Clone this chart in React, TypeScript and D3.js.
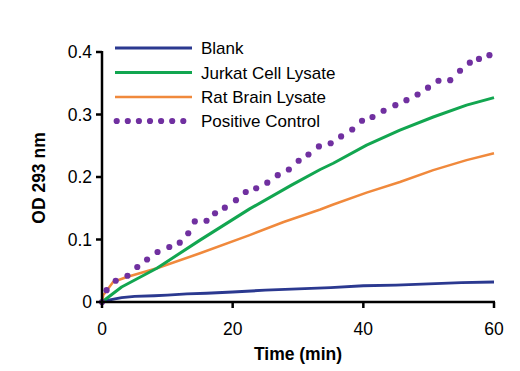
import React from "react";
import { scaleLinear, line, curveLinear } from "d3";

const xTicks = [0, 20, 40, 60];
const yTicks = [0, 0.1, 0.2, 0.3, 0.4];

const blankT = [0, 1, 3, 5, 8, 10, 13, 16, 20, 25, 30, 35, 40, 45, 50, 55, 60];
const blankV = [0, 0.003, 0.007, 0.009, 0.01, 0.011, 0.013, 0.014, 0.016, 0.019, 0.021, 0.023, 0.026, 0.027, 0.029, 0.031, 0.032];

const jurkatT = [0, 3, 8.4, 15, 22.6, 29, 33.4, 35.4, 40.5, 45.6, 50.7, 55.8, 60];
const jurkatV = [0, 0.024, 0.054, 0.099, 0.149, 0.187, 0.212, 0.222, 0.251, 0.275, 0.296, 0.315, 0.327];

const ratT = [0, 0.2, 1.7, 3.8, 8.4, 15, 22.6, 27.8, 33.4, 35.4, 40.5, 45.6, 50.7, 55.8, 60];
const ratV = [0, 0.011, 0.032, 0.04, 0.054, 0.078, 0.107, 0.128, 0.148, 0.156, 0.175, 0.192, 0.211, 0.227, 0.238];

const posT = [0, 0.7, 2.1, 3.9, 5.4, 6.9, 8.5, 10.3, 11.9, 13.2, 14.2, 16, 17.3, 18.8, 20.5, 22, 23.6, 25.3, 26.9, 28.6, 30.1, 31.6, 33.2, 35, 36.6, 38.3, 39.8, 41.4, 43.1, 44.9, 46.6, 48.3, 49.9, 51.5, 53.3, 54.8, 56.3, 57.7, 59.3];
const posV = [0, 0.019, 0.034, 0.042, 0.056, 0.068, 0.08, 0.088, 0.095, 0.11, 0.129, 0.13, 0.142, 0.151, 0.163, 0.176, 0.182, 0.191, 0.203, 0.212, 0.226, 0.236, 0.249, 0.254, 0.265, 0.276, 0.29, 0.296, 0.306, 0.315, 0.323, 0.332, 0.343, 0.354, 0.355, 0.37, 0.383, 0.389, 0.395];

const seriesNames = ["Blank", "Jurkat Cell Lysate", "Rat Brain Lysate", "Positive Control"];
const colors = ["#2b3990", "#12a650", "#f0893c", "#7030a0"];

const W = 520;
const H = 371;
const m = { left: 102, right: 494, top: 52, bottom: 302 };
const font = "Liberation Sans, Arial, sans-serif";

export default function App() {
  const x = scaleLinear().domain([0, 60]).range([m.left, m.right]);
  const y = scaleLinear().domain([0, 0.4]).range([m.bottom, m.top]);

  const mk = line<number>().curve(curveLinear);

  const path = (ts: number[], vs: number[]) =>
    mk.x((_, i) => x(ts[i])).y((v) => y(v))(vs) || "";

  const lines = [
    { d: path(blankT, blankV), c: colors[0], w: 3 },
    { d: path(ratT, ratV), c: colors[2], w: 2.5 },
    { d: path(jurkatT, jurkatV), c: colors[1], w: 3 },
  ];

  const legendY = [48, 72.5, 97, 121];

  return (
    <svg
      width={W}
      height={H}
      style={{ position: "absolute", left: 0, top: 0, background: "#fff" }}
      fontFamily={font}
    >
      {/* series */}
      {lines.map((l, i) => (
        <path key={i} d={l.d} fill="none" stroke={l.c} strokeWidth={l.w} strokeLinejoin="round" />
      ))}
      {posT.map((t, i) => (
        <circle key={i} cx={x(t)} cy={y(posV[i])} r={3.1} fill={colors[3]} />
      ))}

      {/* axes */}
      <line x1={m.left} x2={m.left} y1={m.top - 1} y2={m.bottom + 1} stroke="#000" strokeWidth={2.5} />
      <line x1={m.left - 1} x2={m.right + 1} y1={m.bottom} y2={m.bottom} stroke="#000" strokeWidth={2.5} />
      {yTicks.map((t) => (
        <g key={t}>
          <line x1={m.left - 6} x2={m.left} y1={y(t)} y2={y(t)} stroke="#000" strokeWidth={2.5} />
          <text x={92} y={y(t)} dy="0.36em" textAnchor="end" fontSize={17.5} fill="#000">
            {t === 0 ? "0" : t.toFixed(1)}
          </text>
        </g>
      ))}
      {xTicks.map((t) => (
        <g key={t}>
          <line x1={x(t)} x2={x(t)} y1={m.bottom} y2={m.bottom + 6} stroke="#000" strokeWidth={2.5} />
          <text x={x(t)} y={335} textAnchor="middle" fontSize={17.5} fill="#000">
            {t}
          </text>
        </g>
      ))}
      <text x={(m.left + m.right) / 2} y={360} textAnchor="middle" fontSize={17.5} fontWeight="bold">
        Time (min)
      </text>
      <text
        transform={`translate(45, ${(m.top + m.bottom) / 2 + 1}) rotate(-90)`}
        textAnchor="middle"
        fontSize={17.5}
        fontWeight="bold"
      >
        OD 293 nm
      </text>

      {/* legend */}
      {seriesNames.map((n, i) => (
        <g key={n}>
          {i < 3 ? (
            <line x1={115} x2={192} y1={legendY[i]} y2={legendY[i]} stroke={colors[i]} strokeWidth={i === 2 ? 2.5 : 3} />
          ) : (
            <line
              x1={116.7}
              x2={184}
              y1={legendY[i]}
              y2={legendY[i]}
              stroke={colors[i]}
              strokeWidth={6.2}
              strokeLinecap="round"
              strokeDasharray="0 11.1"
            />
          )}
          <text x={201} y={legendY[i]} dy="0.36em" fontSize={17} fill="#000">
            {n}
          </text>
        </g>
      ))}
    </svg>
  );
}
